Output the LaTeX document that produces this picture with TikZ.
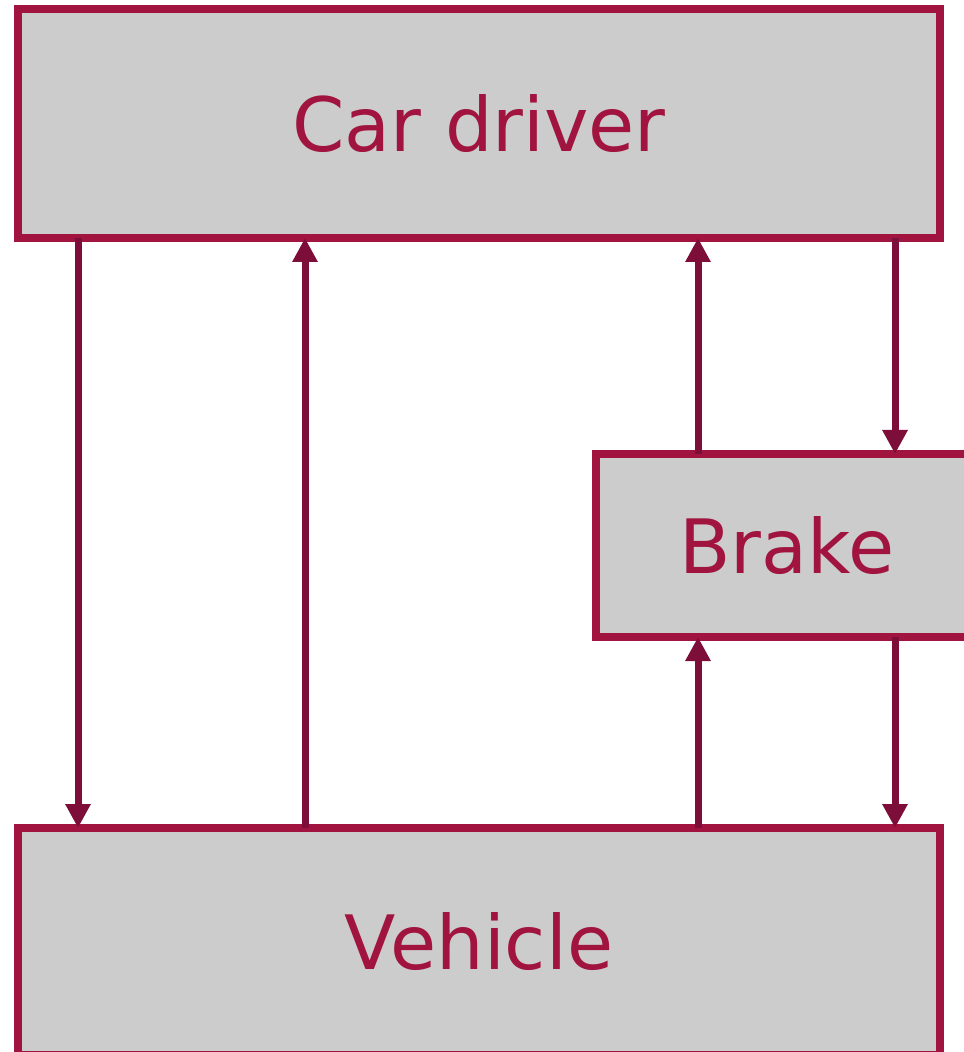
\documentclass[tikz,border=0pt]{standalone}
\usepackage{fontspec}
\setmainfont{DejaVu Sans}
\usetikzlibrary{arrows.meta}
\definecolor{boxred}{HTML}{A0143F}
\definecolor{arrowred}{HTML}{7D0E3A}
\begin{document}
\begin{tikzpicture}[x=0.5pt, y=-0.5pt, >={Triangle[width=12pt,length=12pt]},
  block/.style={draw=boxred, line width=4pt, fill=black!20, text=boxred, inner sep=0pt,
    outer sep=0pt, font=\fontsize{37.5}{45}\selectfont},
  flow/.style={->, draw=arrowred, line width=3.5pt}]
\useasboundingbox (0,0) rectangle (963,1052);
\node[block, minimum width=461pt, minimum height=114.5pt](driver) at (479,123.5){Car driver};
\node[block, minimum width=191pt, minimum height=91.5pt](brake) at (787,545.5){Brake};
\node[block, minimum width=461pt, minimum height=113.5pt](vehicle) at (479,941.5){Vehicle};
% x positions of the arrows
\coordinate (a1) at (78,0);
\coordinate (a2) at (305,0);
\coordinate (a3) at (698,0);
\coordinate (a4) at (895,0);
\draw[flow](driver.south -| a1)--(vehicle.north -| a1);
\draw[flow](vehicle.north -| a2)--(driver.south -| a2);
\draw[flow](brake.north -| a3)--(driver.south -| a3);
\draw[flow](driver.south -| a4)--(brake.north -| a4);
\draw[flow](vehicle.north -| a3)--(brake.south -| a3);
\draw[flow](brake.south -| a4)--(vehicle.north -| a4);
\end{tikzpicture}
\end{document}
